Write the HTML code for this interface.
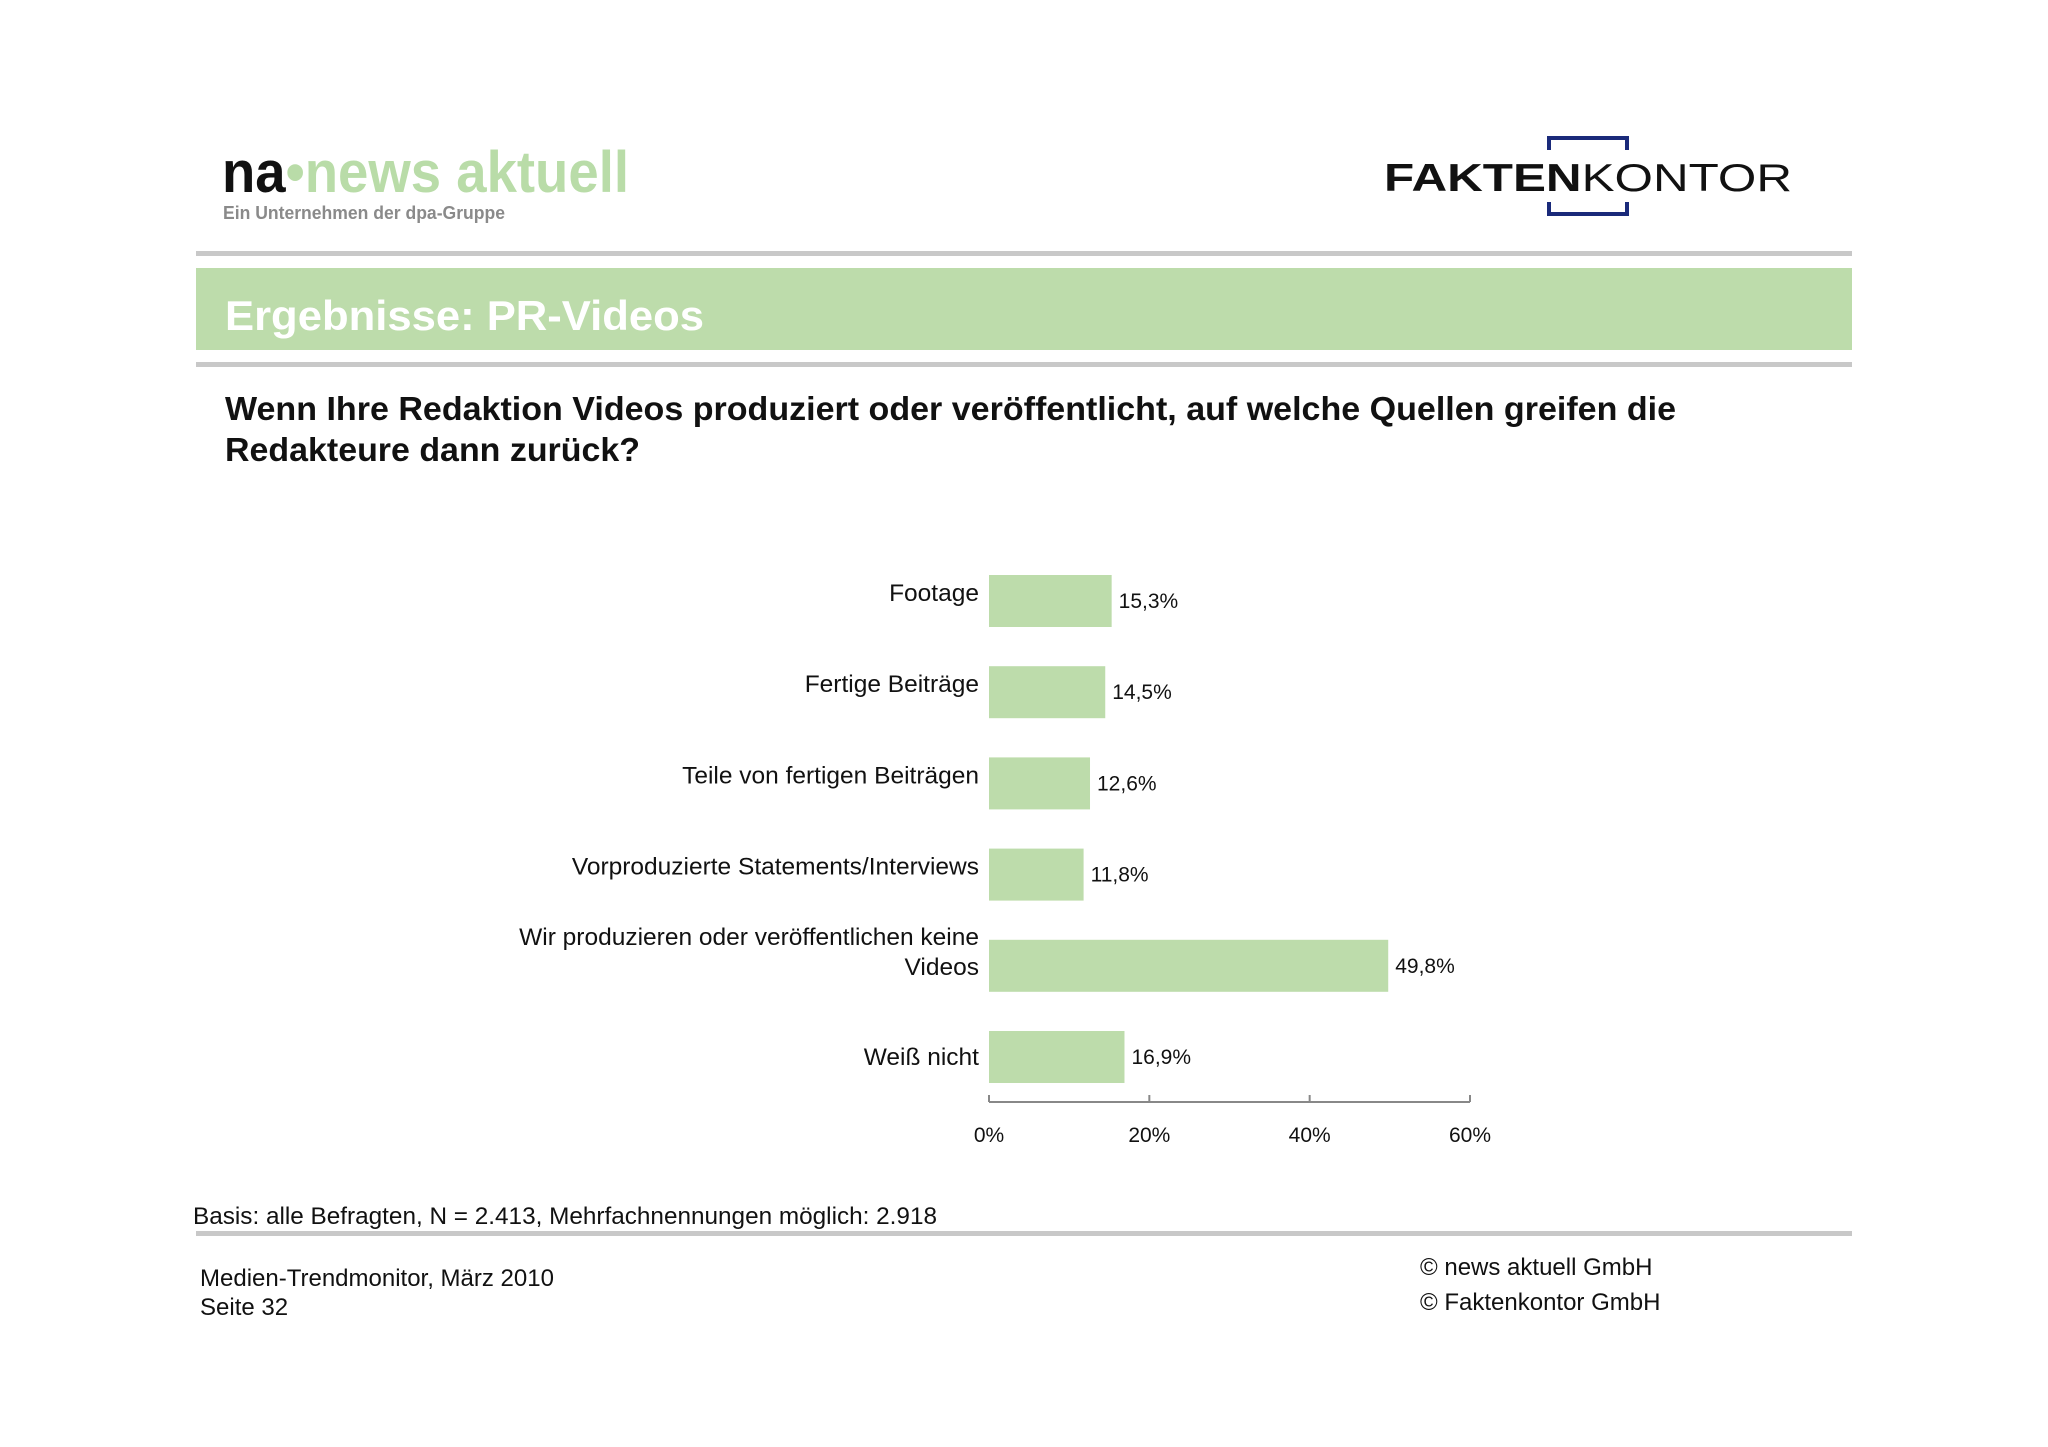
<!DOCTYPE html>
<html><head><meta charset="utf-8">
<style>
html,body{margin:0;padding:0;background:#fff}
body{width:2048px;height:1447px;position:relative;overflow:hidden;font-family:"Liberation Sans",sans-serif}
svg{position:absolute;left:0;top:0}
</style></head>
<body>
<svg width="2048" height="1447" viewBox="0 0 2048 1447">
  <g>
    <text x="222" y="192" font-size="58" font-weight="bold" fill="#111" textLength="407" lengthAdjust="spacingAndGlyphs">na<tspan fill="#b9dca8">•news aktuell</tspan></text>
    <text x="223" y="219" font-size="18" font-weight="bold" fill="#8a8a8a" textLength="282" lengthAdjust="spacingAndGlyphs">Ein Unternehmen der dpa-Gruppe</text>
  </g>
  <g>
    <path d="M1549 150 V138 H1627 V150 M1549 202 V214 H1627 V202" fill="none" stroke="#1a2a7a" stroke-width="4"/>
    <text x="1384" y="191" font-size="39" fill="#111" textLength="408" lengthAdjust="spacingAndGlyphs"><tspan font-weight="bold">FAKTEN</tspan>KONTOR</text>
  </g>
  <rect x="196" y="251" width="1656" height="5" fill="#c8c8c8"/>
  <rect x="196" y="268" width="1656" height="82" fill="#bddcab"/>
  <text x="225" y="330" font-size="42" font-weight="bold" fill="#fff" textLength="479" lengthAdjust="spacingAndGlyphs">Ergebnisse: PR-Videos</text>
  <rect x="196" y="362" width="1656" height="5" fill="#c8c8c8"/>
  <text font-size="33" font-weight="bold" fill="#111">
    <tspan x="225" y="420" textLength="1451" lengthAdjust="spacingAndGlyphs">Wenn Ihre Redaktion Videos produziert oder veröffentlicht, auf welche Quellen greifen die</tspan>
    <tspan x="225" y="461" textLength="415" lengthAdjust="spacingAndGlyphs">Redakteure dann zurück?</tspan>
  </text>
  <g id="chart"></g>
  <text x="193" y="1224" font-size="24" fill="#111" textLength="744" lengthAdjust="spacingAndGlyphs">Basis: alle Befragten, N = 2.413, Mehrfachnennungen möglich: 2.918</text>
  <rect x="196" y="1231" width="1656" height="5" fill="#c8c8c8"/>
  <text x="200" y="1286" font-size="24" fill="#111">Medien-Trendmonitor, März 2010</text>
  <text x="200" y="1315" font-size="24" fill="#111">Seite 32</text>
  <text x="1420" y="1275" font-size="24" fill="#111">© news aktuell GmbH</text>
  <text x="1420" y="1310" font-size="24" fill="#111">© Faktenkontor GmbH</text>
</svg>
<script>
const categories = [["Footage"],["Fertige Beiträge"],["Teile von fertigen Beiträgen"],["Vorproduzierte Statements/Interviews"],["Wir produzieren oder veröffentlichen keine","Videos"],["Weiß nicht"]];
const values = [15.3, 14.5, 12.6, 11.8, 49.8, 16.9];
const valueLabels = ["15,3%","14,5%","12,6%","11,8%","49,8%","16,9%"];
const ticks = [0, 20, 40, 60];
const tickLabels = ["0%","20%","40%","60%"];

const NS = "http://www.w3.org/2000/svg";
const g = document.getElementById("chart");
const x0 = 989, x1 = 1470, xMax = 60;
const top0 = 575, step = 91.2, barH = 52, axisY = 1102;
const xs = v => x0 + (v / xMax) * (x1 - x0);
const yc = i => top0 + i * step;
function mk(tag, attrs){const e=document.createElementNS(NS,tag);for(const k in attrs)e.setAttribute(k,attrs[k]);g.appendChild(e);return e;}

values.forEach((v,i)=>{
  const r = mk("rect",{x:x0,y:yc(i),width:xs(v)-x0,height:barH,fill:"#bddcab"});
  
  
  const t = mk("text",{x:xs(v)+7,y:yc(i)+barH/2+7,"font-size":21,fill:"#111"});
  t.textContent = valueLabels[i];
  
  
  const lines = categories[i];
  const c = mk("text",{x:979,"text-anchor":"end","font-size":24.5,fill:"#111"});
  
  
  lines.forEach((ln,j)=>{
    const ts=document.createElementNS(NS,"tspan");
    ts.setAttribute("x",979);
    const base = lines.length===1 ? yc(i)+barH/2+ (i===5?8:0) : yc(i)+barH/2-21+j*30;
    ts.setAttribute("y",base);
    ts.textContent=ln; c.appendChild(ts);
  });
});
const ax = mk("line",{x1:x0,y1:axisY,x2:x1,y2:axisY,stroke:"#888","stroke-width":2});


ticks.forEach((tv,i)=>{
  const tk = mk("line",{x1:xs(tv),y1:axisY,x2:xs(tv),y2:axisY-7,stroke:"#888","stroke-width":2});
  
  
  const tl = mk("text",{x:xs(tv),y:axisY+40,"text-anchor":"middle","font-size":21,fill:"#111"});
  tl.textContent = tickLabels[i];
  
  
});
</script>
</body></html>
